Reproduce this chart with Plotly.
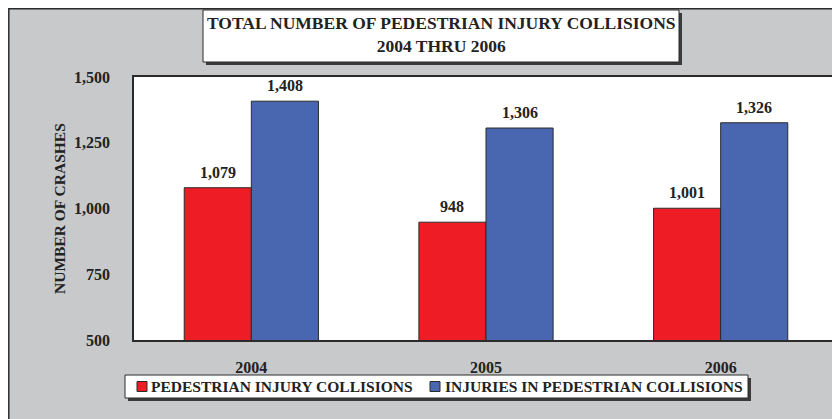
import plotly.graph_objects as go

# ── Data ───────────────────────────────────────────────────────────────────
YEARS = ["2004", "2005", "2006"]
COLLISIONS = [1079, 948, 1001]
INJURIES = [1408, 1306, 1326]
SERIES_NAMES = ["PEDESTRIAN INJURY COLLISIONS", "INJURIES IN PEDESTRIAN COLLISIONS"]
Y_TICKS = [500, 750, 1000, 1250, 1500]

# ── Style ──────────────────────────────────────────────────────────────────
FONT = "Liberation Serif, Times New Roman, serif"
RED = "#ee1c24"
BLUE = "#4966b0"
FRAME_BG = "#c8c9cb"
EDGE = "#2b2b2b"
SHADOW = "#3a3a3a"
TXT = "#222"

# the page body has an 8px margin, so the figure sits at (8, 8) in the window
OFF = 8
W, H = 840 - OFF, 419 - OFF
L, R, T, B = 134 - OFF, 2, 77 - OFF, 79
PW, PH = W - L - R, H - T - B
BARGAP = 0.428


def px_x(px):
    # window pixel -> paper x
    return (px - OFF - L) / PW


def px_y(py):
    # window pixel -> paper y
    return (H - B - (py - OFF)) / PH


fig = go.Figure()

for name, vals, color in [(SERIES_NAMES[0], COLLISIONS, RED), (SERIES_NAMES[1], INJURIES, BLUE)]:
    fig.add_trace(go.Bar(
        x=YEARS,
        y=vals,
        name=name,
        marker=dict(color=color, line=dict(color=EDGE, width=1)),
        showlegend=False,
    ))

# value labels above each bar (category index, shifted onto each bar)
half = PW / len(YEARS) * (1 - BARGAP) / 4
for vals, shift in [(COLLISIONS, -half), (INJURIES, half)]:
    for i, v in enumerate(vals):
        fig.add_annotation(
            x=i, y=v, text=f"{v:,}", showarrow=False,
            xshift=shift, yshift=5, yanchor="bottom",
            font=dict(family=FONT, size=16, color=TXT, weight="bold"),
        )

shapes = [
    # outer grey frame
    dict(type="rect", xref="paper", yref="paper", layer="below",
         x0=px_x(8.8), x1=px_x(860), y0=px_y(8.8), y1=px_y(440),
         fillcolor=FRAME_BG, line=dict(color=EDGE, width=1.5)),
    # white plot area
    dict(type="rect", xref="paper", yref="paper", layer="below",
         x0=0, x1=1, y0=0, y1=1, fillcolor="white", line=dict(width=0)),
    # title box shadow + box
    dict(type="rect", xref="paper", yref="paper", layer="below",
         x0=px_x(206), x1=px_x(682), y0=px_y(13), y1=px_y(65),
         fillcolor=SHADOW, line=dict(width=0)),
    dict(type="rect", xref="paper", yref="paper", layer="below",
         x0=px_x(203), x1=px_x(679), y0=px_y(10), y1=px_y(62),
         fillcolor="white", line=dict(color=EDGE, width=1)),
    # legend box shadow + box
    dict(type="rect", xref="paper", yref="paper", layer="below",
         x0=px_x(128), x1=px_x(751), y0=px_y(378), y1=px_y(401),
         fillcolor=SHADOW, line=dict(width=0)),
    dict(type="rect", xref="paper", yref="paper", layer="below",
         x0=px_x(125), x1=px_x(748), y0=px_y(375), y1=px_y(398),
         fillcolor="white", line=dict(color=EDGE, width=1)),
]

# legend swatches + labels
for (sx, tx), name, color in zip([(137, 149), (430, 443)], SERIES_NAMES, [RED, BLUE]):
    shapes.append(dict(type="rect", xref="paper", yref="paper",
                       x0=px_x(sx), x1=px_x(sx + 10), y0=px_y(381.5), y1=px_y(391.5),
                       fillcolor=color, line=dict(color=EDGE, width=1)))
    fig.add_annotation(
        xref="paper", yref="paper", x=px_x(tx), y=px_y(386.5),
        xanchor="left", yanchor="middle", text=name, showarrow=False,
        font=dict(family=FONT, size=15.5, color=TXT, weight="bold"),
    )

fig.add_annotation(
    xref="paper", yref="paper", x=px_x(441), y=px_y(35),
    xanchor="center", yanchor="middle",
    text="TOTAL NUMBER OF PEDESTRIAN INJURY COLLISIONS<br>2004 THRU 2006",
    showarrow=False, align="center",
    font=dict(family=FONT, size=17.5, color=TXT, weight="bold"),
)

fig.add_annotation(
    xref="paper", yref="paper", x=px_x(59), y=px_y(209),
    xanchor="center", yanchor="middle",
    text="NUMBER OF CRASHES", textangle=-90, showarrow=False,
    font=dict(family=FONT, size=15.5, color=TXT, weight="bold"),
)

fig.update_layout(
    width=W, height=H,
    margin=dict(l=L, r=R, t=T, b=B, autoexpand=False),
    paper_bgcolor="white",
    plot_bgcolor="rgba(0,0,0,0)",
    barmode="group",
    bargap=BARGAP,
    bargroupgap=0,
    shapes=shapes,
    showlegend=False,
    xaxis=dict(
        type="category",
        showgrid=False, automargin=False,
        showline=True, linecolor=EDGE, linewidth=1.5, mirror=True,
        ticks="", ticklabelstandoff=12,
        tickfont=dict(family=FONT, size=16, color=TXT, weight="bold"),
    ),
    yaxis=dict(
        range=[500, 1500],
        tickvals=Y_TICKS,
        tickformat=",",
        showgrid=False, zeroline=False, automargin=False,
        showline=True, linecolor=EDGE, linewidth=1.5, mirror=True,
        ticks="", ticklabelstandoff=19,
        tickfont=dict(family=FONT, size=16, color=TXT, weight="bold"),
    ),
)

fig.write_html("out.html")
